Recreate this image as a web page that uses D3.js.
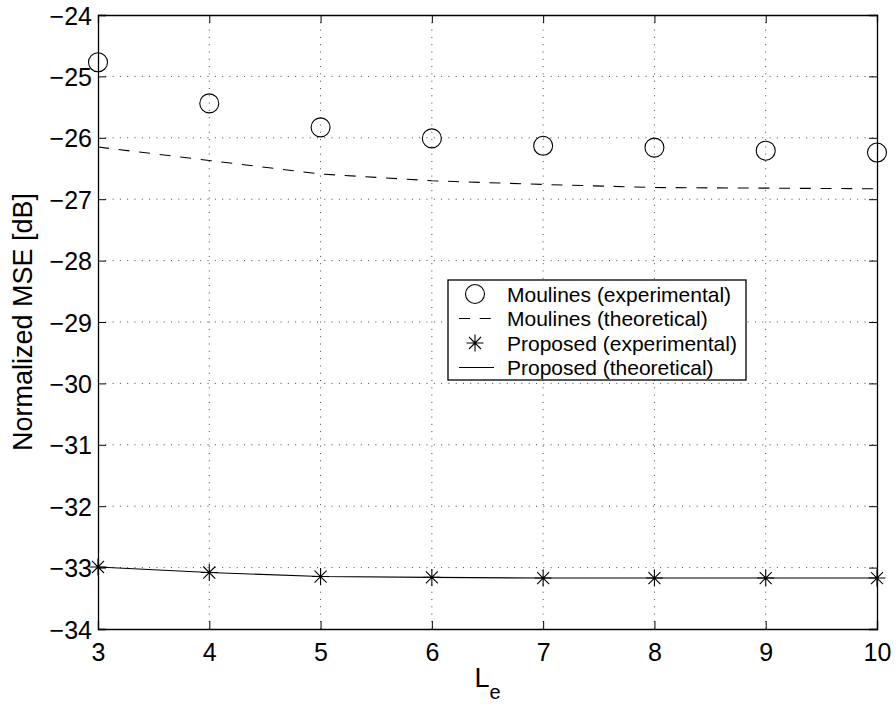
<!DOCTYPE html>
<html>
<head>
<meta charset="utf-8">
<script src="https://cdn.jsdelivr.net/npm/d3@7"></script>
<style>
  body { margin: 0; background: #fff; }
  svg { display: block; font-family: "Liberation Sans", Arial, sans-serif; }
</style>
</head>
<body>
<div class="vis-chart"></div>
<script>
// values
const Le = [3, 4, 5, 6, 7, 8, 9, 10];
const moulinesExp = [-24.77, -25.44, -25.83, -26.01, -26.13, -26.16, -26.21, -26.24];
const moulinesTheo = [-26.15, -26.37, -26.59, -26.70, -26.76, -26.81, -26.82, -26.83];
const proposedExp = [-32.99, -33.08, -33.146, -33.16, -33.17, -33.17, -33.17, -33.17];
const proposedTheo = [-32.99, -33.08, -33.146, -33.16, -33.17, -33.17, -33.17, -33.17];
const xTicks = [3, 4, 5, 6, 7, 8, 9, 10];
const yTicks = [-24, -25, -26, -27, -28, -29, -30, -31, -32, -33, -34];
const legendLabels = ["Moulines (experimental)", "Moulines (theoretical)",
    "Proposed (experimental)", "Proposed (theoretical)"];

const W = 896, H = 707;
const margin = { top: 15, right: 19, bottom: 78, left: 98 };
const width = W - margin.left - margin.right;
const height = H - margin.top - margin.bottom;

const svg = d3.select(".vis-chart")
    .append("svg")
    .attr("width", W)
    .attr("height", H)
    .append("g")
    .attr("transform", "translate(" + margin.left + "," + margin.top + ")");

const x = d3.scaleLinear().domain([3, 10]).range([0, width]);
const y = d3.scaleLinear().domain([-34, -24]).range([height, 0]);

// dotted grid
svg.append("g")
    .selectAll("line")
    .data(xTicks.slice(1, -1))
    .join("line")
    .attr("x1", d => x(d)).attr("x2", d => x(d))
    .attr("y1", 0).attr("y2", height)
    .attr("stroke", "#444").attr("stroke-width", 1)
    .attr("stroke-dasharray", "1,6.3");
svg.append("g")
    .selectAll("line")
    .data(yTicks.slice(1, -1))
    .join("line")
    .attr("y1", d => y(d)).attr("y2", d => y(d))
    .attr("x1", 0).attr("x2", width)
    .attr("stroke", "#444").attr("stroke-width", 1)
    .attr("stroke-dasharray", "1,6.3");

// axes with inward ticks on all four sides
const tick = 8;
const xb = svg.append("g")
    .attr("transform", "translate(0," + height + ")")
    .call(d3.axisBottom(x).tickValues(xTicks).tickSize(-tick).tickPadding(14).tickFormat(d3.format("d")));
const xt = svg.append("g")
    .call(d3.axisTop(x).tickValues(xTicks).tickSize(-tick).tickFormat(""));
const yl = svg.append("g")
    .call(d3.axisLeft(y).tickValues(yTicks).tickSize(-tick).tickPadding(6)
        .tickFormat(d => "\u2212" + Math.abs(d)));
const yr = svg.append("g")
    .attr("transform", "translate(" + width + ",0)")
    .call(d3.axisRight(y).tickValues(yTicks).tickSize(-tick).tickFormat(""));

[xb, xt, yl, yr].forEach(g => {
    g.select(".domain").attr("stroke", "#000").attr("stroke-width", 1.3);
    g.selectAll(".tick line").attr("stroke", "#000");
    g.selectAll("text").attr("fill", "#000").style("font-size", "25px")
        .style("font-family", "'Liberation Sans', Arial, sans-serif");
});
xb.selectAll("text").attr("dy", "0.72em");
yl.selectAll("text").attr("dy", "0.36em");

// axis labels
const xlab = svg.append("text")
    .attr("x", x(6.5))
    .attr("y", height + 58)
    .attr("text-anchor", "middle")
    .style("font-size", "27px");
xlab.append("tspan").text("L");
xlab.append("tspan").attr("dy", 12).style("font-size", "20px").text("e");

svg.append("text")
    .attr("transform", "translate(" + (32 - margin.left) + "," + (322 - margin.top) + ") rotate(-90)")
    .attr("text-anchor", "middle")
    .style("font-size", "27px")
    .text("Normalized MSE [dB]");

const line = d3.line()
    .x((d, i) => x(Le[i]))
    .y(d => y(d));

// Moulines theoretical (dashed)
svg.append("path")
    .datum(moulinesTheo)
    .attr("fill", "none")
    .attr("stroke", "#000")
    .attr("stroke-width", 1.1)
    .attr("stroke-dasharray", "11,9.7")
    .attr("d", line);

// Proposed theoretical (solid)
svg.append("path")
    .datum(proposedTheo)
    .attr("fill", "none")
    .attr("stroke", "#000")
    .attr("stroke-width", 1.1)
    .attr("d", line);

// Moulines experimental (circles)
svg.append("g")
    .selectAll("circle")
    .data(moulinesExp)
    .join("circle")
    .attr("cx", (d, i) => x(Le[i]))
    .attr("cy", d => y(d))
    .attr("r", 9.5)
    .attr("fill", "none")
    .attr("stroke", "#000")
    .attr("stroke-width", 1.1);

// asterisk marker path
const star = (s) => {
    const a = s * 0.7071;
    return "M" + (-s) + ",0L" + s + ",0M0," + (-s) + "L0," + s +
        "M" + (-a) + "," + (-a) + "L" + a + "," + a +
        "M" + (-a) + "," + a + "L" + a + "," + (-a);
};

svg.append("g")
    .selectAll("path")
    .data(proposedExp)
    .join("path")
    .attr("transform", (d, i) => "translate(" + x(Le[i]) + "," + y(d) + ")")
    .attr("d", star(8.5))
    .attr("fill", "none")
    .attr("stroke", "#000")
    .attr("stroke-width", 1.1);

// legend
const lg = svg.append("g")
    .attr("transform", "translate(" + (448 - margin.left) + "," + (280 - margin.top) + ")");
lg.append("rect")
    .attr("width", 298).attr("height", 100)
    .attr("fill", "#fff").attr("stroke", "#000").attr("stroke-width", 1.3);
const rowY = i => 14 + i * 24.5;
legendLabels.forEach((t, i) => {
    lg.append("text")
        .attr("x", 59).attr("y", rowY(i))
        .attr("dy", "0.36em")
        .style("font-size", "21px")
        .text(t);
});
lg.append("circle").attr("cx", 27).attr("cy", rowY(0)).attr("r", 9.5)
    .attr("fill", "none").attr("stroke", "#000").attr("stroke-width", 1.1);
lg.append("line").attr("x1", 11).attr("x2", 43).attr("y1", rowY(1)).attr("y2", rowY(1))
    .attr("stroke", "#000").attr("stroke-width", 1.1).attr("stroke-dasharray", "11,9.7");
lg.append("path").attr("transform", "translate(27," + rowY(2) + ")")
    .attr("d", star(8.5)).attr("fill", "none").attr("stroke", "#000").attr("stroke-width", 1.1);
lg.append("line").attr("x1", 11).attr("x2", 46).attr("y1", rowY(3)).attr("y2", rowY(3))
    .attr("stroke", "#000").attr("stroke-width", 1.1);
</script>
</body>
</html>
